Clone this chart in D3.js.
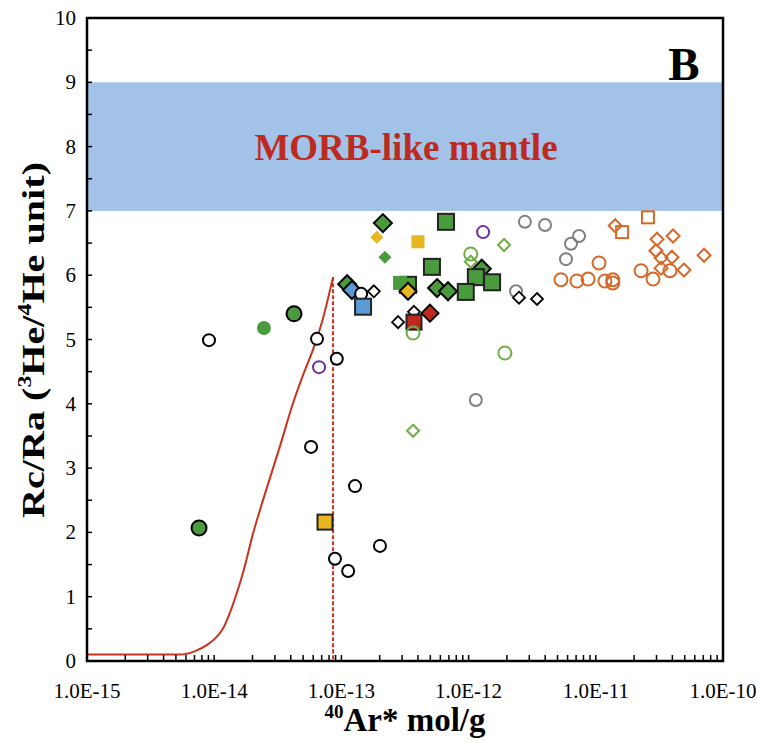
<!DOCTYPE html>
<html><head><meta charset="utf-8">
<script src="https://cdn.jsdelivr.net/npm/d3@7/dist/d3.min.js"></script>
<style>body{margin:0;background:#fff}svg{display:block}text{font-family:"Liberation Serif","Times New Roman",serif}</style>
</head><body><svg id="c" width="757" height="742"></svg>
<script>
// ---------- data ----------
const xTickLabels = ["1.0E-15","1.0E-14","1.0E-13","1.0E-12","1.0E-11","1.0E-10"];
const yTickLabels = [0,1,2,3,4,5,6,7,8,9,10];
const morbBand = [7, 9];
const mixingCurve = [[1e-15,0.1],[3e-15,0.1],[5.4e-15,0.1],[7e-15,0.15],[8.8e-15,0.25],[1.05e-14,0.38],[1.17e-14,0.5],[1.3e-14,0.7],[1.5e-14,1.05],[1.7e-14,1.4],[2.0e-14,1.95],[2.6e-14,2.7],[3.3e-14,3.35],[4.15e-14,4.0],[5.0e-14,4.45],[6.0e-14,4.85],[7.1e-14,5.3],[8.6e-14,5.97]];
const dashedLine = [[8.6e-14,5.97],[8.6e-14,0]];

const blackOpenCircles = [[9.1e-15,4.99],[6.43e-14,5.01],[9.2e-14,4.70],[5.77e-14,3.33],[1.28e-13,2.72],[8.9e-14,1.59],[1.13e-13,1.40],[2.01e-13,1.79],[1.43e-13,5.71]];
const grayOpenCircles = [[1.14e-12,4.06],[2.77e-12,6.83],[3.99e-12,6.78],[2.36e-12,5.75],[7.38e-12,6.61],[6.38e-12,6.49],[5.83e-12,6.25]];
const orangeOpenCircles = [[5.32e-12,5.93],[7.1e-12,5.91],[8.7e-12,5.94],[1.18e-11,5.91],[1.36e-11,5.93],[1.36e-11,5.88],[1.06e-11,6.19],[2.27e-11,6.07],[2.82e-11,5.94],[3.83e-11,6.07]];
const orangeOpenDiamonds = [[1.42e-11,6.77],[3.03e-11,6.56],[4.05e-11,6.61],[2.97e-11,6.38],[3.26e-11,6.27],[3.97e-11,6.28],[3.26e-11,6.11],[4.93e-11,6.08],[7.1e-11,6.31]];
const orangeOpenSquares = [[2.57e-11,6.90],[1.61e-11,6.67]];
const blackOpenDiamonds = [[1.80e-13,5.75],[2.79e-13,5.27],[3.72e-13,5.43],[2.49e-12,5.65],[3.45e-12,5.63]];
const greenOpenCircles = [[1.04e-12,6.33],[3.66e-13,5.10],[1.93e-12,4.79]];
const greenOpenDiamonds = [[1.90e-12,6.47],[1.04e-12,6.21],[3.66e-13,3.58]];
const purpleOpenCircles = [[1.30e-12,6.67],[6.67e-14,4.57]];
const greenDiamondsBordered = [[2.12e-13,6.81],[5.65e-13,5.80],[6.89e-13,5.75],[1.27e-12,6.10],[1.11e-13,5.86]];
const greenDiamondsPlain = [[2.2e-13,6.28]];
const greenSquaresBordered = [[6.64e-13,6.83],[5.15e-13,6.13],[1.14e-12,5.97],[1.53e-12,5.89],[9.5e-13,5.74],[3.34e-13,5.85]];
const greenSquaresPlain = [[2.89e-13,5.88]];
const greenCirclesPlain = [[2.46e-14,5.18]];
const greenCirclesBordered = [[4.24e-14,5.40],[7.6e-15,2.07]];
const yellowDiamondsPlain = [[1.9e-13,6.59]];
const yellowDiamondsBordered = [[3.34e-13,5.75]];
const yellowSquaresPlain = [[4.0e-13,6.52]];
const yellowSquaresBordered = [[7.43e-14,2.16]];
const blueSquares = [[1.48e-13,5.51]];
const blueDiamonds = [[1.21e-13,5.77]];
const redSquares = [[3.72e-13,5.27]];
const redDiamonds = [[4.97e-13,5.41]];

// ---------- layout ----------
const W=757,H=742, L=87, R=723, T=18, B=661;
const svg=d3.select("#c");
const x=d3.scaleLog().domain([1e-15,1e-10]).range([L,R]);
const y=d3.scaleLinear().domain([0,10]).range([B,T]);

// band
svg.append("rect").attr("x",L).attr("width",R-L).attr("y",y(morbBand[1])).attr("height",y(morbBand[0])-y(morbBand[1])).attr("fill","#a3c2e7");
svg.append("text").attr("x",406).attr("y",160).attr("text-anchor","middle").attr("font-size",37).attr("font-weight","bold").attr("fill","#bd2a1f").text("MORB-like mantle");
svg.append("text").attr("x",684).attr("y",80).attr("text-anchor","middle").attr("font-size",47).attr("font-weight","bold").attr("fill","#000").text("B");

// curves
const line=d3.line().x(d=>x(d[0])).y(d=>y(d[1])).curve(d3.curveMonotoneX);
svg.append("path").attr("d",line(mixingCurve)).attr("fill","none").attr("stroke","#c8321e").attr("stroke-width",2);
svg.append("path").attr("d",d3.line().x(d=>x(d[0])).y(d=>y(d[1]))(dashedLine)).attr("fill","none").attr("stroke","#c8321e").attr("stroke-width",2).attr("stroke-dasharray","4,2");

// markers
function circles(data,r,fill,stroke,sw){
  svg.append("g").selectAll("circle").data(data).join("circle").attr("cx",d=>x(d[0])).attr("cy",d=>y(d[1])).attr("r",r).attr("fill",fill).attr("stroke",stroke).attr("stroke-width",sw);
}
function squares(data,s,fill,stroke,sw){
  svg.append("g").selectAll("rect").data(data).join("rect").attr("x",d=>x(d[0])-s/2).attr("y",d=>y(d[1])-s/2).attr("width",s).attr("height",s).attr("fill",fill).attr("stroke",stroke).attr("stroke-width",sw);
}
function diamonds(data,h,fill,stroke,sw){
  svg.append("g").selectAll("path").data(data).join("path").attr("d",d=>{const cx=x(d[0]),cy=y(d[1]);return `M${cx},${cy-h}L${cx+h},${cy}L${cx},${cy+h}L${cx-h},${cy}Z`;}).attr("fill",fill).attr("stroke",stroke).attr("stroke-width",sw).attr("stroke-linejoin","miter");
}
const GREEN="#4a9b3e", YEL="#e8b61e", BLUE="#5b9bd5", RED="#c1281d", ORG="#d4692a", GRAY="#7f7f7f", LG="#70ad47", PUR="#7030a0";
circles(grayOpenCircles,6,"none",GRAY,2);
circles(orangeOpenCircles,6.5,"none",ORG,2);
diamonds(orangeOpenDiamonds,6.5,"none",ORG,2);
squares(orangeOpenSquares,12,"none",ORG,2);
circles(purpleOpenCircles,6,"none",PUR,2);
diamonds(blackOpenDiamonds,6,"#fff","#000",1.8);
diamonds(greenDiamondsPlain,6.5,GREEN,"none",0);
diamonds(yellowDiamondsPlain,6.5,YEL,"none",0);
circles(greenCirclesPlain,7,GREEN,"none",0);
circles(greenCirclesBordered,7.5,GREEN,"#000",2);
diamonds(greenDiamondsBordered,9,GREEN,"#000",2);
diamonds(blueDiamonds,9,BLUE,"#000",2);
circles(blackOpenCircles,6,"#fff","#000",2);
squares(yellowSquaresPlain,13,YEL,"none",0);
squares(greenSquaresBordered,16,GREEN,"#222",2);
squares(greenSquaresPlain,14,GREEN,"none",0);
diamonds(yellowDiamondsBordered,8.5,YEL,"#000",2);
squares(redSquares,15,RED,"#222",2);
diamonds(redDiamonds,8.5,RED,"#000",2);
squares(blueSquares,16,BLUE,"#222",2);
squares(yellowSquaresBordered,15,YEL,"#222",2);
circles(greenOpenCircles,6.5,"none",LG,2);
diamonds(greenOpenDiamonds,6,"none",LG,2);

// axes & frame
svg.append("rect").attr("x",L).attr("y",T).attr("width",R-L).attr("height",B-T).attr("fill","none").attr("stroke","#000").attr("stroke-width",2.5);
const yt=d3.range(0,10.01,0.5);
svg.append("g").selectAll("line").data(yt).join("line").attr("x1",L).attr("x2",L+5).attr("y1",d=>y(d)).attr("y2",d=>y(d)).attr("stroke","#000").attr("stroke-width",1.5);
svg.append("g").selectAll("text").data(yTickLabels).join("text").attr("x",L-11).attr("y",d=>y(d)+7).attr("text-anchor","end").attr("font-size",21).text(d=>d);
const xt=[];
for(let e=-15;e<-10;e++){for(let m=1;m<10;m++) xt.push(m*Math.pow(10,e));}
xt.push(1e-10);
svg.append("g").selectAll("line").data(xt).join("line").attr("x1",d=>x(d)).attr("x2",d=>x(d)).attr("y1",B).attr("y2",B-6).attr("stroke","#000").attr("stroke-width",1.5);
svg.append("g").selectAll("text").data(xTickLabels).join("text").attr("x",(d,i)=>x(Math.pow(10,-15+i))).attr("y",B+37).attr("text-anchor","middle").attr("font-size",21).text(d=>d);

// titles
const xt2=svg.append("text").attr("x",405).attr("y",731).attr("text-anchor","middle").attr("font-size",33).attr("font-weight","bold");
xt2.append("tspan").attr("font-size",19).attr("dy",-13).text("40");
xt2.append("tspan").attr("dy",13).text("Ar* mol/g");
const yt2=svg.append("text").attr("transform","translate(44,340) rotate(-90)").attr("text-anchor","middle").attr("font-size",32).attr("font-weight","bold").attr("textLength",356).attr("lengthAdjust","spacingAndGlyphs");
yt2.append("tspan").text("Rc/Ra (");
yt2.append("tspan").attr("font-size",19).attr("dy",-13).text("3");
yt2.append("tspan").attr("dy",13).text("He/");
yt2.append("tspan").attr("font-size",19).attr("dy",-13).text("4");
yt2.append("tspan").attr("dy",13).text("He unit)");
</script></body></html>
